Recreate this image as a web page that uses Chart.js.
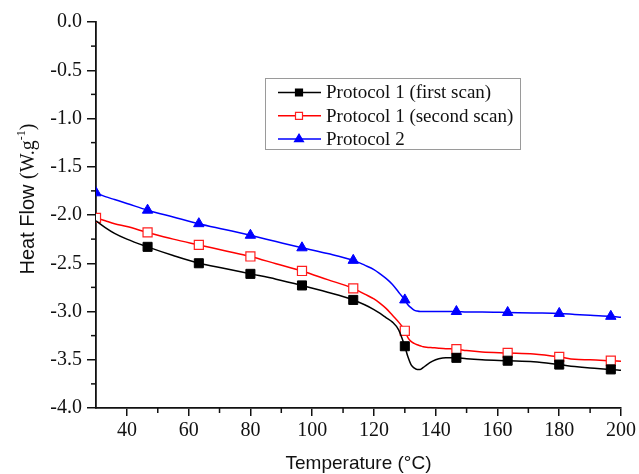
<!DOCTYPE html>
<html>
<head>
<meta charset="utf-8">
<script src="https://cdn.jsdelivr.net/npm/chart.js@4.4.1/dist/chart.umd.min.js"></script>
<style>
  html, body { margin: 0; padding: 0; background: #fff; }
  #wrap { width: 639px; height: 474px; }
</style>
</head>
<body>
<div id="wrap"><canvas id="dsc" width="639" height="474"></canvas></div>
<script>
// DSC heating curves, heat flow (W/g) against temperature (°C)
const temperature = [30, 33, 36, 40, 46.7, 55, 63.3, 71.7, 80, 88.3, 96.7, 105, 113.3,
  117, 120, 122, 124, 126, 128, 129, 130, 131, 132, 133, 134, 135, 136, 137, 139, 141,
  143.3, 146.7, 150, 155, 163.3, 171.7, 180, 185, 190, 196.7, 200];

const firstScan = [-2.06, -2.13, -2.19, -2.25, -2.33, -2.42, -2.50, -2.555, -2.61, -2.665, -2.73, -2.80, -2.88,
  -2.93, -2.98, -3.02, -3.065, -3.11, -3.19, -3.27, -3.36, -3.47, -3.55, -3.585, -3.60, -3.60, -3.58, -3.555, -3.515, -3.49,
  -3.478, -3.48, -3.49, -3.50, -3.51, -3.52, -3.55, -3.57, -3.585, -3.60, -3.61];

const secondScan = [-2.03, -2.06, -2.09, -2.12, -2.18, -2.25, -2.31, -2.37, -2.43, -2.505, -2.58, -2.67, -2.76,
  -2.82, -2.87, -2.915, -2.97, -3.04, -3.11, -3.15, -3.20, -3.27, -3.31, -3.33, -3.345, -3.355, -3.365, -3.37, -3.375, -3.38,
  -3.385, -3.39, -3.405, -3.42, -3.43, -3.44, -3.47, -3.495, -3.50, -3.51, -3.515];

const protocol2 = [-1.77, -1.81, -1.84, -1.88, -1.95, -2.02, -2.09, -2.15, -2.21, -2.275, -2.34, -2.40, -2.47,
  -2.52, -2.565, -2.61, -2.66, -2.72, -2.80, -2.84, -2.88, -2.93, -2.96, -2.985, -2.995, -3.00, -3.00, -3.00, -3.00, -3.00,
  -3.00, -3.00, -3.005, -3.005, -3.01, -3.015, -3.02, -3.03, -3.04, -3.05, -3.06];

// symbols are only drawn at these temperatures (first scan has none at 30)
const markerTemps = [30, 46.7, 63.3, 80, 96.7, 113.3, 130, 146.7, 163.3, 180, 196.7];
const firstScanMarkerTemps = [46.7, 63.3, 80, 96.7, 113.3, 130, 146.7, 163.3, 180, 196.7];

const seriesNames = ['Protocol 1 (first scan)', 'Protocol 1 (second scan)', 'Protocol 2'];

const SERIF = '"Liberation Serif", "Times New Roman", serif';
const SANS = '"Liberation Sans", Arial, sans-serif';

function toPoints(values) {
  return temperature.map((t, i) => ({ x: t, y: values[i] }));
}

function markerRadius(r, temps) {
  return ctx => temps.includes(temperature[ctx.dataIndex]) ? r : 0;
}

// small outward ticks between the labelled ones
const minorTicks = {
  id: 'minorTicks',
  afterDraw(chart) {
    const { ctx, chartArea } = chart;
    const xs = chart.scales.x, ys = chart.scales.y;
    ctx.save();
    ctx.strokeStyle = '#111';
    ctx.lineWidth = 1.5;
    xs.ticks.forEach(t => {
      if (t.value % 20 === 0 || t.value === xs.min) return;
      const px = xs.getPixelForValue(t.value);
      ctx.beginPath();
      ctx.moveTo(px, chartArea.bottom);
      ctx.lineTo(px, chartArea.bottom + 5);
      ctx.stroke();
    });
    ys.ticks.forEach(t => {
      if (Math.abs(t.value * 2 - Math.round(t.value * 2)) < 1e-6) return;
      const py = ys.getPixelForValue(t.value);
      ctx.beginPath();
      ctx.moveTo(chartArea.left, py);
      ctx.lineTo(chartArea.left - 5, py);
      ctx.stroke();
    });
    ctx.restore();
  }
};

// axis titles, the y one has a superscript unit
const axisTitles = {
  id: 'axisTitles',
  afterDraw(chart) {
    const { ctx, chartArea } = chart;
    ctx.save();
    ctx.fillStyle = '#111';
    ctx.textBaseline = 'alphabetic';

    ctx.font = '19px ' + SANS;
    ctx.textAlign = 'center';
    ctx.fillText('Temperature (°C)', (chartArea.left + chartArea.right) / 2, 469);

    const parts = [
      { text: 'Heat Flow ', font: '20px ' + SANS, dy: 0 },
      { text: '(W.g', font: '20px ' + SERIF, dy: 0 },
      { text: '-1', font: '12px ' + SERIF, dy: -9 },
      { text: ')', font: '20px ' + SERIF, dy: 0 }
    ];
    let total = 0;
    parts.forEach(p => { ctx.font = p.font; p.w = ctx.measureText(p.text).width; total += p.w; });
    ctx.translate(34, 199);
    ctx.rotate(-Math.PI / 2);
    ctx.textAlign = 'left';
    let x = -total / 2;
    parts.forEach(p => {
      ctx.font = p.font;
      ctx.fillText(p.text, x, p.dy);
      x += p.w;
    });
    ctx.restore();
  }
};

function drawSymbol(ctx, style, x, y, fill, stroke) {
  ctx.fillStyle = fill;
  ctx.strokeStyle = stroke;
  ctx.lineWidth = 1.2;
  ctx.beginPath();
  if (style === 'triangle') {
    ctx.moveTo(x, y - 5);
    ctx.lineTo(x + 4.5, y + 2.6);
    ctx.lineTo(x - 4.5, y + 2.6);
    ctx.closePath();
  } else {
    ctx.rect(x - 3.5, y - 3.5, 7, 7);
  }
  ctx.fill();
  ctx.stroke();
}

// boxed legend with line + symbol samples
const legendBox = {
  id: 'legendBox',
  afterDraw(chart) {
    const ctx = chart.ctx;
    ctx.save();
    ctx.strokeStyle = '#9a9a9a';
    ctx.lineWidth = 1;
    ctx.strokeRect(265.5, 78.5, 255, 71);
    chart.data.datasets.forEach((ds, i) => {
      const y = 92.5 + i * 23.3;
      ctx.strokeStyle = ds.borderColor;
      ctx.lineWidth = 1.5;
      ctx.beginPath();
      ctx.moveTo(278, y);
      ctx.lineTo(321, y);
      ctx.stroke();
      drawSymbol(ctx, ds.pointStyle, 299, y, ds.pointBackgroundColor, ds.pointBorderColor);
      ctx.fillStyle = '#111';
      ctx.font = '19px ' + SERIF;
      ctx.textAlign = 'left';
      ctx.textBaseline = 'middle';
      ctx.fillText(ds.label, 326, y + 1);
    });
    ctx.restore();
  }
};

new Chart(document.getElementById('dsc'), {
  type: 'line',
  data: {
    datasets: [
      {
        label: seriesNames[0],
        data: toPoints(firstScan),
        borderColor: '#000',
        borderWidth: 1.5,
        pointStyle: 'rect',
        pointBackgroundColor: '#000',
        pointBorderColor: '#000',
        pointBorderWidth: 1,
        pointRadius: markerRadius(6.4, firstScanMarkerTemps),
        cubicInterpolationMode: 'monotone',
        clip: 0
      },
      {
        label: seriesNames[1],
        data: toPoints(secondScan),
        borderColor: '#ff0000',
        borderWidth: 1.5,
        pointStyle: 'rect',
        pointBackgroundColor: '#fff',
        pointBorderColor: '#ff2020',
        pointBorderWidth: 1.2,
        pointRadius: markerRadius(6.4, markerTemps),
        cubicInterpolationMode: 'monotone',
        clip: 0
      },
      {
        label: seriesNames[2],
        data: toPoints(protocol2),
        borderColor: '#0000ff',
        borderWidth: 1.5,
        pointStyle: 'triangle',
        pointBackgroundColor: '#0000ff',
        pointBorderColor: '#0000ff',
        pointBorderWidth: 1,
        pointRadius: markerRadius(6, markerTemps),
        cubicInterpolationMode: 'monotone',
        clip: 0
      }
    ]
  },
  options: {
    responsive: false,
    devicePixelRatio: 1,
    animation: false,
    layout: { padding: { top: 22, right: 17, left: 0, bottom: 0 } },
    plugins: {
      legend: { display: false },
      tooltip: { enabled: false }
    },
    scales: {
      x: {
        type: 'linear',
        min: 30,
        max: 200,
        afterFit: scale => { scale.height = 66; },
        border: { color: '#111', width: 1.8 },
        grid: {
          drawOnChartArea: false,
          tickLength: 8,
          lineWidth: 1.5,
          tickColor: ctx => (ctx.tick && ctx.tick.value % 20 === 0) ? '#111' : 'rgba(0,0,0,0)'
        },
        ticks: {
          stepSize: 10,
          autoSkip: false,
          maxRotation: 0,
          padding: 3,
          color: '#111',
          font: { family: SERIF, size: 20 },
          callback: v => v % 20 === 0 ? String(v) : ''
        }
      },
      y: {
        min: -4,
        max: 0,
        afterFit: scale => { scale.width = 96; },
        border: { color: '#111', width: 1.8 },
        grid: {
          drawOnChartArea: false,
          tickLength: 9,
          lineWidth: 1.5,
          tickColor: ctx => (ctx.tick && Math.abs(ctx.tick.value * 2 - Math.round(ctx.tick.value * 2)) < 1e-6) ? '#111' : 'rgba(0,0,0,0)'
        },
        ticks: {
          stepSize: 0.25,
          autoSkip: false,
          padding: 5,
          color: '#111',
          font: { family: SERIF, size: 20 },
          callback: v => Math.abs(v * 2 - Math.round(v * 2)) < 1e-6 ? Number(v).toFixed(1) : ''
        }
      }
    }
  },
  plugins: [minorTicks, axisTitles, legendBox]
});
</script>
</body>
</html>
